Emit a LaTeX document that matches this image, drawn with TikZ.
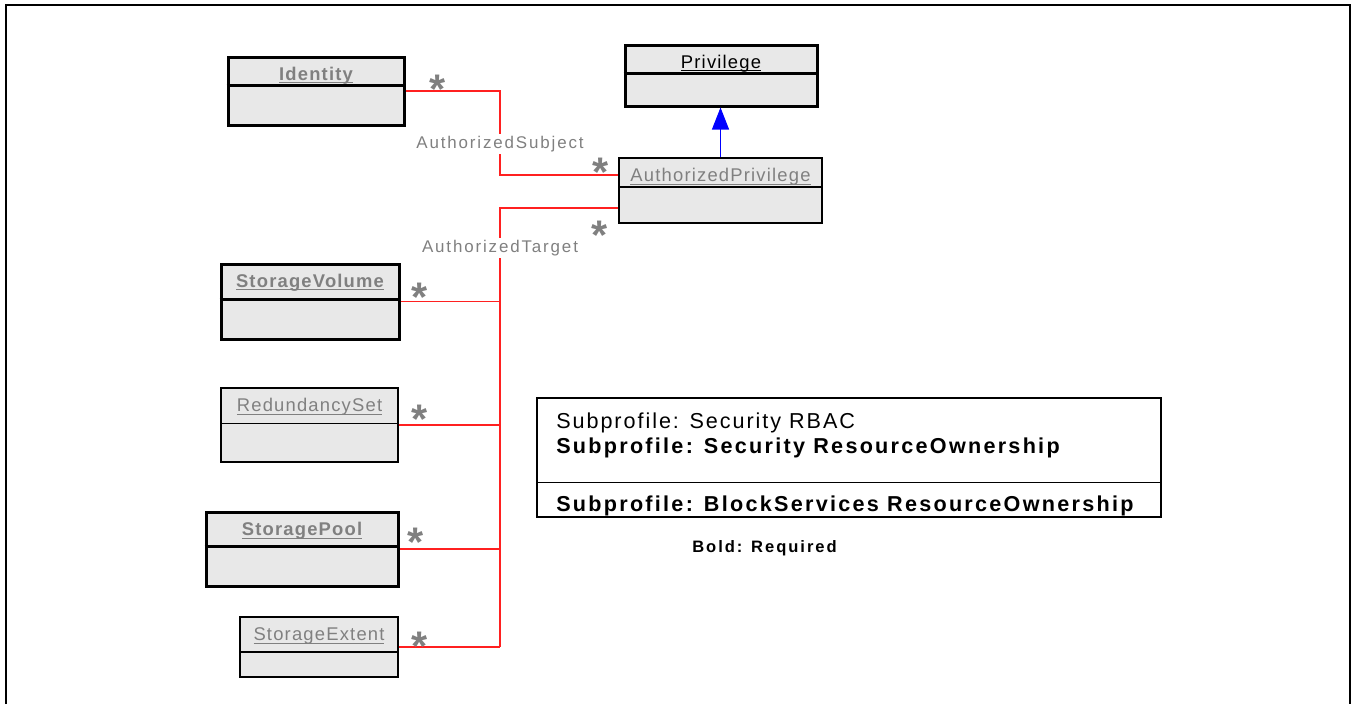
\documentclass[tikz,border=0pt]{standalone}
\usepackage{fontspec}
\setmainfont{Liberation Sans}
\newfontfamily\clsfont[LetterSpace=6.5]{Liberation Sans}
\newfontfamily\legfont[LetterSpace=9]{Liberation Sans}
\newfontfamily\legbfont[LetterSpace=10.5]{Liberation Sans}
\newfontfamily\labfont[LetterSpace=11]{Liberation Sans}
\newfontfamily\reqfont[LetterSpace=12]{Liberation Sans}
\usetikzlibrary{fit,calc,arrows.meta}
\definecolor{boxfill}{HTML}{E8E8E8}
\definecolor{nmgray}{HTML}{808080}
\definecolor{assocred}{HTML}{FF2020}
\newcommand\clsul[1]{\setbox0\hbox{#1}\rlap{\rule[-2.3pt]{\wd0}{0.75pt}}\box0}
\tikzset{
  clsbox/.style={draw=black, fill=boxfill, inner sep=0pt},
  clsthick/.style={clsbox, line width=2.25pt},
  clsthin/.style={clsbox, line width=0.9pt},
  clsname/.style={anchor=base, inner sep=0pt, text=nmgray, font=\clsfont\fontsize{13.8}{16}\selectfont},
  clsbold/.style={clsname, font=\clsfont\fontsize{13.8}{16}\selectfont\bfseries},
  mult/.style={anchor=north, inner sep=0pt, text=nmgray, font=\fontsize{31}{34}\selectfont\bfseries},
  assoc/.style={draw=assocred, line width=0.8pt},
  assoclabel/.style={anchor=base, fill=white, inner sep=1.5pt, text=nmgray, font=\labfont\fontsize{12.7}{15}\selectfont},
  inherit/.style={draw=blue, line width=0.8pt, -{Triangle[width=12.75pt,length=16.5pt]}},
  legtext/.style={anchor=base west, inner sep=0pt, font=\legfont\fontsize{16.2}{19}\selectfont},
  legbold/.style={legtext, font=\legbfont\fontsize{16.2}{19}\selectfont\bfseries},
}
\begin{document}
\begin{tikzpicture}[x=0.75pt, y=-0.75pt]
\useasboundingbox (0,0) rectangle (1351,704);
% outer frame
\draw[line width=1.6pt] (6,704) -- (6,5) -- (1350,5) -- (1350,704);

% classes
\node[clsthick, fit={(228,57) (404,125)}] (identity) {};
\draw[line width=2.25pt] ($(identity.north west)+(0,30)$) -- ($(identity.north east)+(0,30)$);
\node[clsbold] (identityname) at (316,80) {\clsul{Identity}};

\node[clsthick, fit={(625,45) (817,106)}] (priv) {};
\draw[line width=2.25pt] ($(priv.north west)+(0,30)$) -- ($(priv.north east)+(0,30)$);
\node[clsname, text=black] (privname) at (721,68.3) {\clsul{Privilege}};

\node[clsthin, fit={(619,158) (822,223)}] (ap) {};
\draw[line width=0.9pt] ($(ap.north west)+(0,29.5)$) -- ($(ap.north east)+(0,29.5)$);
\node[clsname] (apname) at (720.5,181.7) {\clsul{AuthorizedPrivilege}};

\node[clsthick, fit={(221,264) (399,339)}] (sv) {};
\draw[line width=2.25pt] ($(sv.north west)+(0,36.5)$) -- ($(sv.north east)+(0,36.5)$);
\node[clsbold] (svname) at (310,287.3) {\clsul{StorageVolume}};

\node[clsthin, fit={(221,388) (398,462)}] (rs) {};
\draw[line width=0.9pt] ($(rs.north west)+(0,35.7)$) -- ($(rs.north east)+(0,35.7)$);
\node[clsname] (rsname) at (309.5,411.7) {\clsul{RedundancySet}};

\node[clsthick, fit={(206,512) (398.7,586)}] (sp) {};
\draw[line width=2.25pt] ($(sp.north west)+(0,35.5)$) -- ($(sp.north east)+(0,35.5)$);
\node[clsbold] (spname) at (302,535.7) {\clsul{StoragePool}};

\node[clsthin, fit={(240,617) (398,677)}] (se) {};
\draw[line width=0.9pt] ($(se.north west)+(0,35.5)$) -- ($(se.north east)+(0,35.5)$);
\node[clsname] (sename) at (319,640.7) {\clsul{StorageExtent}};

% inheritance
\draw[inherit] (ap.north) -- (ap.north |- priv.south);

% AuthorizedSubject association
\coordinate (s2) at (500,175);
\draw[assoc] (identity.east) -| (s2) -- (ap.west |- s2);
\node[assoclabel] (sublab) at (500,148.3) {AuthorizedSubject};

% AuthorizedTarget association
\coordinate (t1) at (500,208);
\draw[assoc, line width=1.1pt] (ap.west |- t1) -- (t1) -- (t1 |- se.east);
\draw[assoc] (sv.east) -- (sv.east -| t1);
\draw[assoc] (rs.east) -- (rs.east -| t1);
\draw[assoc] (sp.east) -- (sp.east -| t1);
\draw[assoc] (se.east) -- (se.east -| t1);
\node[assoclabel] (tgtlab) at (500,252.5) {AuthorizedTarget};

% multiplicities
\node[mult] (m1) at (438,74.5) {*};
\node[mult] (m2) at (601,157.5) {*};
\node[mult] (m3) at (600,220.5) {*};
\node[mult] (m4) at (420,282.5) {*};
\node[mult] (m5) at (420,404.5) {*};
\node[mult] (m6) at (416,527.5) {*};
\node[mult] (m7) at (420,632) {*};

% legend
\node[draw=black, line width=0.8pt, inner sep=0pt, fit={(537,398) (1161,517)}] (legend) {};
\draw[line width=0.8pt] ($(legend.north west)+(0,85)$) -- ($(legend.north east)+(0,85)$);
\node[legtext] (leg1) at (556,428) {Subprofile: Security RBAC};
\node[legbold] (leg2) at (556,453) {Subprofile: Security ResourceOwnership};
\node[legbold] (leg3) at (556,511) {Subprofile: BlockServices ResourceOwnership};
\node[anchor=base, inner sep=0pt, font=\reqfont\fontsize{12.4}{14}\selectfont\bfseries] (req) at (764.5,552.7) {Bold: Required};
\end{tikzpicture}
\end{document}
